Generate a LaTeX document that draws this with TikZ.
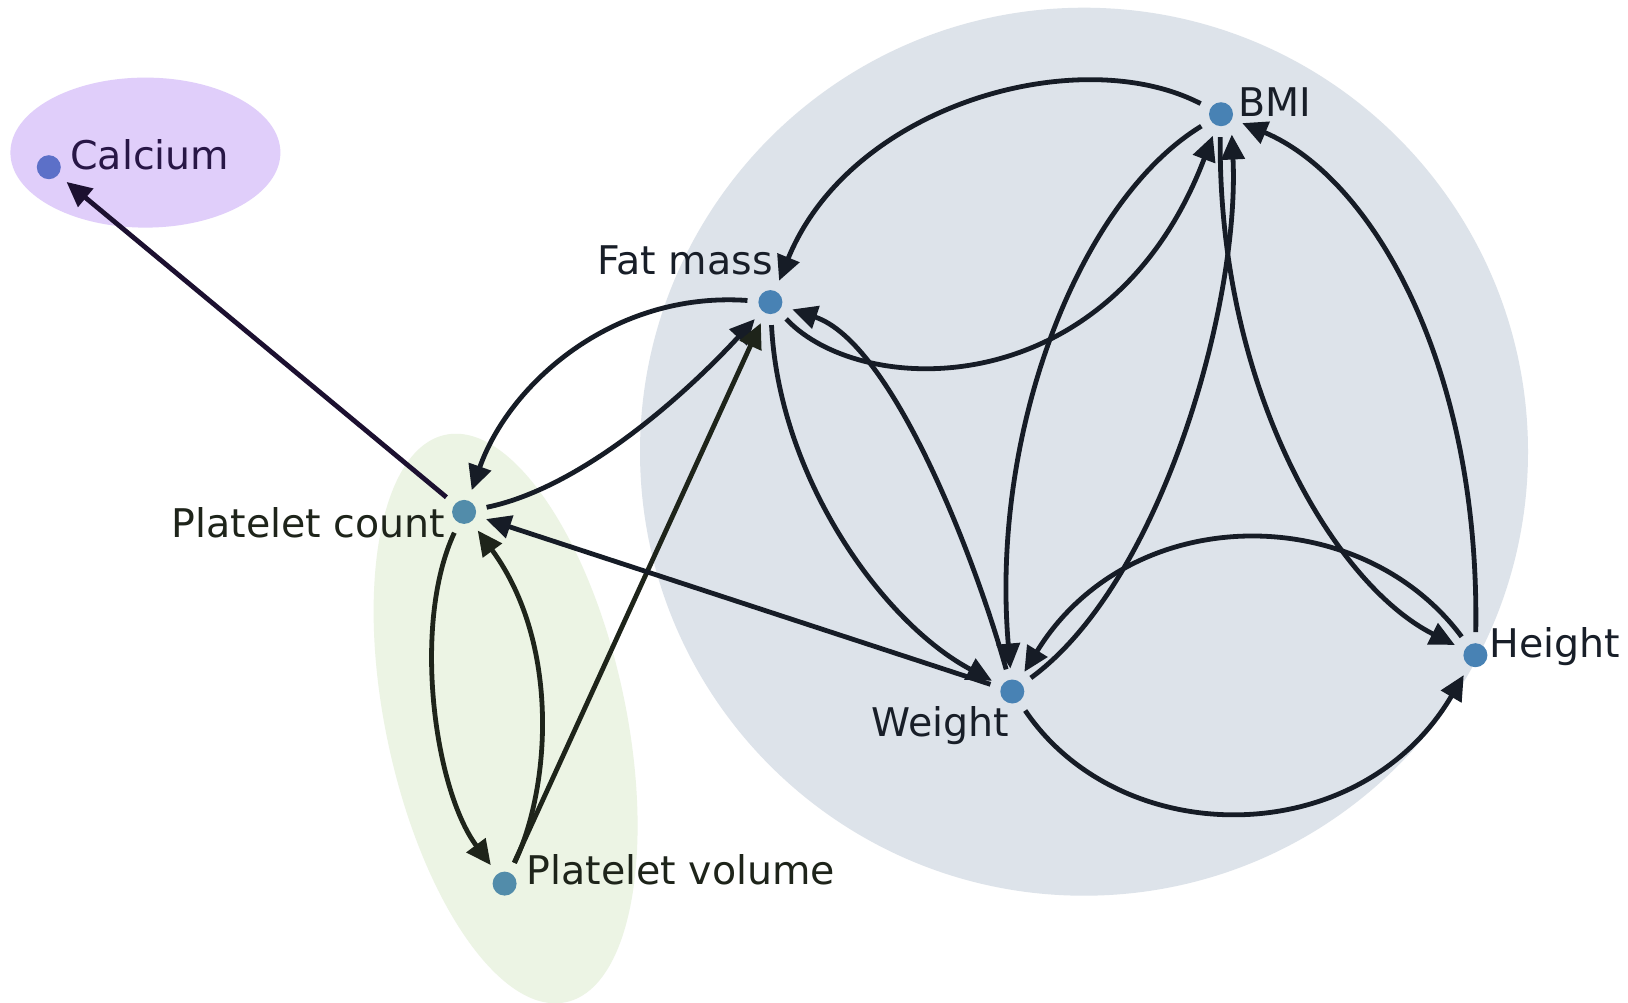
\documentclass[tikz,border=0pt]{standalone}
\usepackage{fontspec}
\setmainfont{DejaVu Sans}
\usetikzlibrary{arrows.meta}
\definecolor{grpgray}{RGB}{221,227,234}
\definecolor{grpgreen}{RGB}{236,244,228}
\definecolor{grppurple}{RGB}{224,206,250}
\definecolor{dotblue}{RGB}{72,130,180}
\definecolor{dotgreen}{RGB}{82,140,170}
\definecolor{dotca}{RGB}{92,112,200}
\definecolor{edgedark}{RGB}{22,28,38}
\definecolor{edgegreen}{RGB}{30,36,26}
\definecolor{edgepurple}{RGB}{28,16,48}
\definecolor{txtdark}{RGB}{24,30,40}
\definecolor{txtgreen}{RGB}{30,36,26}
\definecolor{txtpurple}{RGB}{40,22,70}
\begin{document}
\begin{tikzpicture}[x=0.5pt,y=-0.5pt,
  dot/.style={circle,inner sep=0pt,minimum size=12pt,outer sep=5.5pt},
  lbl/.style={anchor=base west,inner sep=0pt,font=\fontsize{19.75}{24}\selectfont},
  edge/.style={line width=2.4pt,draw=edgedark,-{Triangle[length=12.5pt,width=11.5pt]}},
  gedge/.style={edge,draw=edgegreen},
  pedge/.style={edge,draw=edgepurple}]
\useasboundingbox (0,0) rectangle (1628,1002);
\fill[white] (0,0) rectangle (1628,1002);
% groups
\fill[grpgray] (1084,451.7) circle[radius=444];
\begin{scope}[shift={(505.6,718.5)},rotate=12]
\fill[grpgreen] (0,0) ellipse[x radius=120,y radius=290];
\end{scope}
\fill[grppurple] (145.4,152.6) ellipse[x radius=135,y radius=75];
% nodes
\node[dot,fill=dotca] (Ca) at (48.8,167.2) {};
\node[dot,fill=dotblue] (BMI) at (1221,114.2) {};
\node[dot,fill=dotblue] (FM) at (770.4,302.1) {};
\node[dot,fill=dotgreen] (PC) at (464.1,511.9) {};
\node[dot,fill=dotgreen] (PV) at (504.6,883.6) {};
\node[dot,fill=dotblue] (W) at (1012.3,691.5) {};
\node[dot,fill=dotblue] (H) at (1475.4,655.2) {};
% labels
\node[lbl,text=txtpurple] (lCa) at (70,169) {Calcium};
\node[lbl,text=txtdark] (lBMI) at (1237.6,116.3) {BMI};
\node[lbl,text=txtdark] (lFM) at (597,274) {Fat mass};
\node[lbl,text=txtgreen] (lPC) at (171.3,537.8) {Platelet count};
\node[lbl,text=txtgreen] (lPV) at (526.4,884.6) {Platelet volume};
\node[lbl,text=txtdark] (lW) at (871.1,736.2) {Weight};
\node[lbl,text=txtdark] (lH) at (1488.9,657.2) {Height};
% edges
\draw[pedge] (PC) -- (Ca);
\draw[edge] (BMI) .. controls (1080,41) and (851,104) .. (FM);
\draw[edge] (FM) .. controls (862,400) and (1111,405) .. (BMI);
\draw[edge] (FM) .. controls (613,291) and (509,384) .. (PC);
\draw[edge] (PC) .. controls (581,488) and (685,395) .. (FM);
\draw[gedge] (PV) -- (FM);
\draw[edge] (W) .. controls (976,561) and (893,343) .. (FM);
\draw[edge] (FM) .. controls (779,478) and (883,623) .. (W);
\draw[edge] (BMI) .. controls (1080,200) and (990,430) .. (W);
\draw[edge] (W) .. controls (1163,581) and (1240,300) .. (BMI.-62);
\draw[edge] (BMI.-92) .. controls (1218,390) and (1335,585) .. (H);
\draw[edge] (H) .. controls (1480,363) and (1371,177) .. (BMI);
\draw[edge] (H) .. controls (1360,500) and (1130,500) .. (W);
\draw[edge] (W) .. controls (1121,852) and (1360,852) .. (H);
\draw[edge] (W) -- (PC);
\draw[gedge] (PC) .. controls (412,623) and (434,789) .. (PV);
\draw[gedge] (PV) .. controls (550,789) and (561,644) .. (PC);
\end{tikzpicture}
\end{document}
